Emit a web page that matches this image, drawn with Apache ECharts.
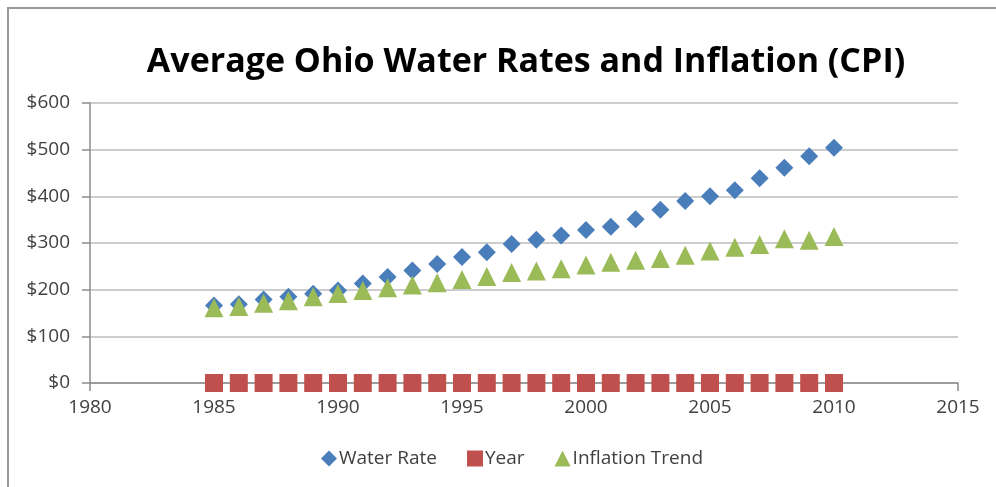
<!DOCTYPE html>
<html lang="en">
<head>
    <meta charset="UTF-8">
    <title>Average Ohio Water Rates and Inflation (CPI)</title>
    <style>
        body { margin: 0; background: #fff; }
    </style>
</head>
<body>
<div id="main" style="width: 996px;height:487px;"></div>
<script src="https://cdn.jsdelivr.net/npm/echarts@6/dist/echarts.min.js"></script>
<script>
    // years on the x axis
    var years = [1985, 1986, 1987, 1988, 1989, 1990, 1991, 1992, 1993, 1994, 1995, 1996, 1997,
                 1998, 1999, 2000, 2001, 2002, 2003, 2004, 2005, 2006, 2007, 2008, 2009, 2010];
    // dollars
    var waterRate = [166, 169, 179, 185, 191, 198, 213, 227, 241, 255, 270, 280, 298,
                     307, 316, 328, 335, 351, 371, 390, 400, 413, 439, 461, 486, 504];
    var yearSeries = [0, 0, 0, 0, 0, 0, 0, 0, 0, 0, 0, 0, 0,
                      0, 0, 0, 0, 0, 0, 0, 0, 0, 0, 0, 0, 0];
    var inflation = [161, 164, 171, 176, 185, 192, 198, 204, 210, 215, 222, 228, 237,
                     240, 245, 253, 259, 263, 267, 274, 283, 291, 297, 309, 306, 314];

    function pairs(vals) {
        var out = [];
        for (var i = 0; i < years.length; i++) {
            out.push([years[i], vals[i]]);
        }
        return out;
    }

    var font = '"Open Sans", "Liberation Sans", sans-serif';
    var myChart = echarts.init(document.getElementById('main'));
    var option = {
        backgroundColor: '#fff',
        animation: false,
        textStyle: { fontFamily: font },
        graphic: [{
            type: 'rect',
            shape: { x: 8, y: 8, width: 1000, height: 500 },
            style: { fill: 'none', stroke: '#9a9a9a', lineWidth: 2 },
            silent: true
        }],
        title: {
            text: 'Average Ohio Water Rates and Inflation (CPI)',
            left: 521,
            textAlign: 'center',
            top: 40,
            textStyle: {
                fontFamily: font,
                fontSize: 34,
                fontWeight: 'bold',
                color: '#000'
            }
        },
        legend: {
            bottom: 14,
            left: 316,
            itemGap: 30,
            itemWidth: 16,
            itemHeight: 16,
            textStyle: { fontSize: 19, color: '#404040', padding: [0, 0, 0, -3] },
            data: [
                { name: 'Water Rate', icon: 'diamond' },
                { name: 'Year', icon: 'rect' },
                { name: 'Inflation Trend', icon: 'triangle' }
            ]
        },
        grid: {
            left: 90,
            right: 38,
            top: 103,
            bottom: 104
        },
        xAxis: {
            type: 'value',
            min: 1980,
            max: 2015,
            interval: 5,
            axisLine: { show: true, lineStyle: { color: '#8c8c8c', width: 1.5 } },
            axisTick: { show: true, length: 8, lineStyle: { color: '#8c8c8c', width: 1.5 } },
            axisLabel: {
                fontSize: 19,
                color: '#404040',
                margin: 15,
                formatter: function (v) { return String(v); }
            },
            splitLine: { show: false }
        },
        yAxis: {
            type: 'value',
            min: 0,
            max: 600,
            interval: 100,
            axisLine: { show: true, lineStyle: { color: '#8c8c8c', width: 1.5 } },
            axisTick: { show: true, length: 8, lineStyle: { color: '#8c8c8c', width: 1.5 } },
            axisLabel: {
                fontSize: 19,
                color: '#404040',
                margin: 20,
                formatter: function (v) { return '$' + v; }
            },
            splitLine: { show: true, lineStyle: { color: '#bdbdbd', width: 1.5 } }
        },
        series: [
            {
                name: 'Water Rate',
                type: 'scatter',
                symbol: 'diamond',
                symbolSize: 18,
                itemStyle: { color: '#4a7ebb', opacity: 1 },
                data: pairs(waterRate)
            },
            {
                name: 'Year',
                type: 'scatter',
                symbol: 'rect',
                symbolSize: 18,
                itemStyle: { color: '#c0504d', opacity: 1 },
                data: pairs(yearSeries)
            },
            {
                name: 'Inflation Trend',
                type: 'scatter',
                symbol: 'triangle',
                symbolSize: 19,
                itemStyle: { color: '#9bbb59', opacity: 1 },
                data: pairs(inflation)
            }
        ]
    };
    myChart.setOption(option);
</script>
</body>
</html>
